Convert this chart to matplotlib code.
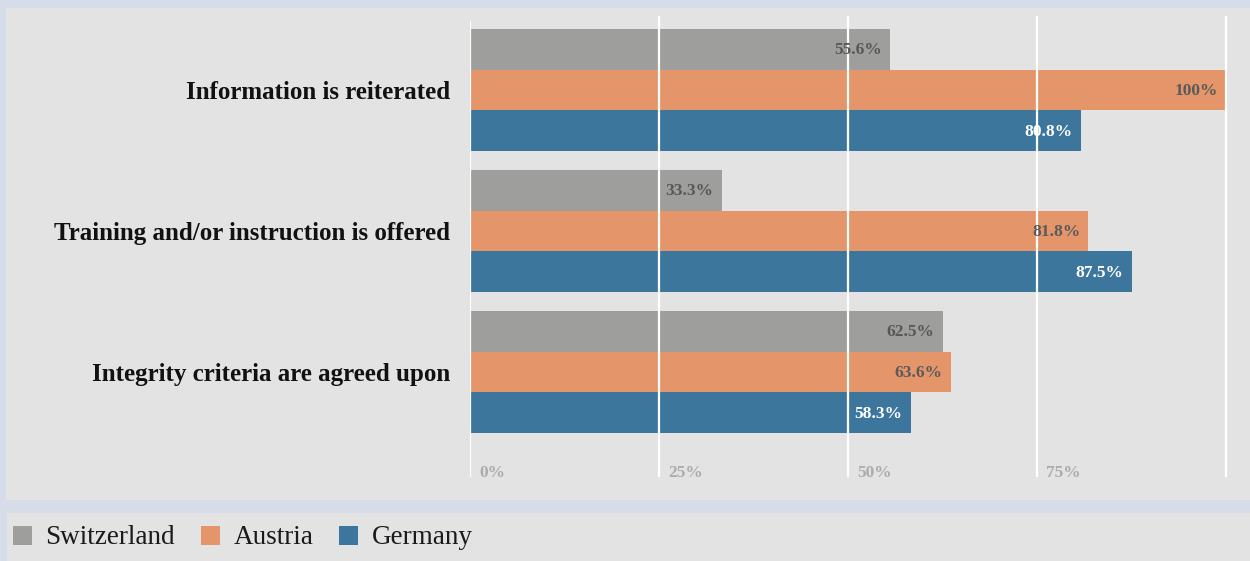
import matplotlib

matplotlib.use("Agg")
import matplotlib.pyplot as plt
from matplotlib.patches import Rectangle

categories = [
    "Information is reiterated",
    "Training and/or instruction is offered",
    "Integrity criteria are agreed upon",
]
countries = ["Switzerland", "Austria", "Germany"]
values = {
    "Switzerland": [55.6, 33.3, 62.5],
    "Austria": [100, 81.8, 63.6],
    "Germany": [80.8, 87.5, 58.3],
}
value_labels = {
    "Switzerland": ["55.6%", "33.3%", "62.5%"],
    "Austria": ["100%", "81.8%", "63.6%"],
    "Germany": ["80.8%", "87.5%", "58.3%"],
}
ticks = [0, 25, 50, 75, 100]
tick_labels = ["0%", "25%", "50%", "75%", ""]

colors = {"Switzerland": "#9e9e9c", "Austria": "#e4956a", "Germany": "#3d769c"}
label_colors = {"Switzerland": "#575757", "Austria": "#5a5a5a", "Germany": "white"}

W, H = 1250, 561
SERIF = ["Liberation Serif", "DejaVu Serif"]
plt.rcParams["font.family"] = SERIF

fig = plt.figure(figsize=(W / 100, H / 100), dpi=100, facecolor="#d6dde9")

# panel backgrounds (pixel boxes converted to figure fractions)
def panel(x0, y0, x1, y1):
    fig.patches.append(Rectangle((x0 / W, 1 - y1 / H), (x1 - x0) / W, (y1 - y0) / H,
                                 transform=fig.transFigure, facecolor="#e3e3e3",
                                 edgecolor="none", zorder=-10))

panel(6, 8, W, 500)
panel(7, 513, W, H)

# axes: 0% at x=470px, 100% at x=1226px
x0_px, x100_px = 470, 1226
ax_top, ax_bot = 16, 477
ax = fig.add_axes([x0_px / W, 1 - ax_bot / H, (W - x0_px) / W, (ax_bot - ax_top) / H])
ax.set_facecolor("none")
ax.set_xlim(0, 100 * (W - x0_px) / (x100_px - x0_px))

pitch = 141.0
bar_h = 40.6 / pitch
center0 = 90.0
ax.set_ylim((ax_bot - center0) / pitch, -(center0 - ax_top) / pitch)

for s in ax.spines.values():
    s.set_visible(False)
ax.tick_params(length=0, labelbottom=False, labelleft=False)
ax.set_yticks([])
ax.set_xticks(ticks)
ax.grid(axis="x", color="white", linewidth=1.6, zorder=3)
ax.set_axisbelow(False)
# the baseline gridline starts a little lower than the others
ax.xaxis.get_gridlines()[0].set_visible(False)
ax.axvline(0, ymin=0, ymax=1 - 6 / (ax_bot - ax_top), color="white",
           linewidth=1.6, zorder=3)

handles = []
for i, c in enumerate(countries):
    ys = [g + (i - 1) * bar_h for g in range(len(categories))]
    b = ax.barh(ys, values[c], height=bar_h, color=colors[c], zorder=2, label=c)
    handles.append(b)
    for y, v, lab in zip(ys, values[c], value_labels[c]):
        ax.annotate(lab, (v, y), xytext=(-8, -1), textcoords="offset pixels",
                    ha="right", va="center", fontsize=12.5, fontweight="bold",
                    color=label_colors[c], zorder=4)

for g, cat in enumerate(categories):
    ax.annotate(cat, (0, g), xytext=(-20, -3), textcoords="offset pixels",
                ha="right", va="center", fontsize=18, fontweight="bold",
                color="#111111", annotation_clip=False)

for t, lab in zip(ticks, tick_labels):
    ax.annotate(lab, (t, 0), xycoords=("data", "axes fraction"), xytext=(9, 0),
                textcoords="offset pixels", ha="left", va="baseline",
                fontsize=12.5, fontweight="bold", color="#acacac")

fig.legend(handles=handles, labels=countries, loc="center left",
           bbox_to_anchor=(13 / W, 1 - 538 / H), ncol=3, frameon=False,
           borderpad=0, borderaxespad=0,
           handlelength=0.7, handleheight=0.7, handletextpad=0.5,
           columnspacing=0.95, prop={"family": SERIF, "size": 19.5},
           labelcolor="#1a1a1a")

fig.savefig("out.png", dpi=100, facecolor=fig.get_facecolor())
